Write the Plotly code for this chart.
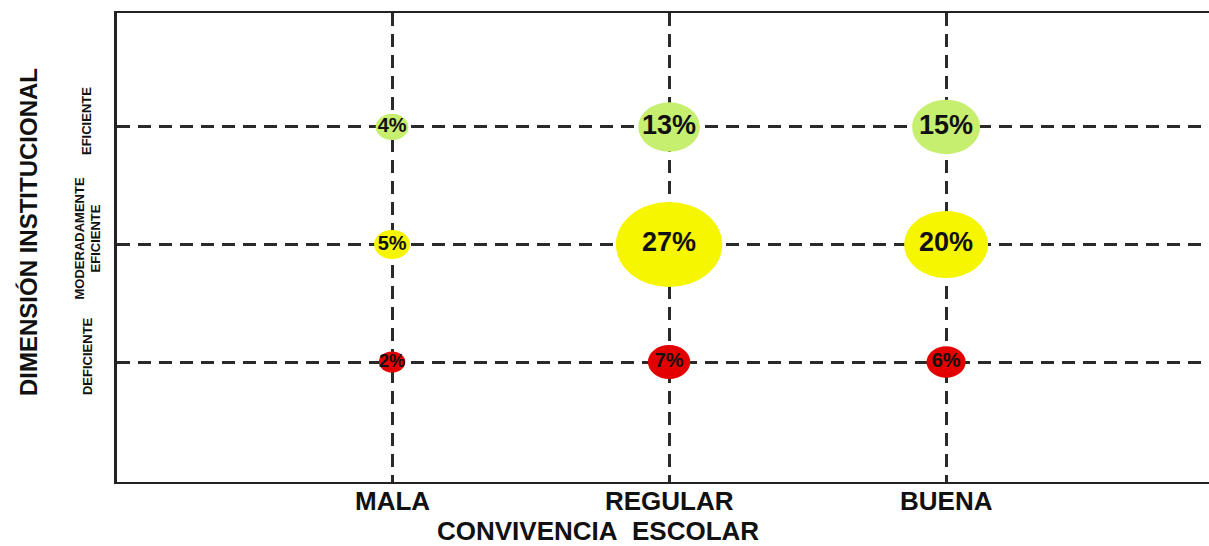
import plotly.graph_objects as go

# ---------------- data ----------------
x_categories = ["MALA", "REGULAR", "BUENA"]
y_categories = ["DEFICIENTE", "MODERADAMENTE<br>EFICIENTE", "EFICIENTE"]
# percentages per row (y category), one value per x category
deficiente = [2, 7, 6]
moderadamente_eficiente = [5, 27, 20]
eficiente = [4, 13, 15]
x_title = "CONVIVENCIA\u00a0\u00a0ESCOLAR"
y_title = "DIMENSIÓN INSTITUCIONAL"

# ---------------- style ----------------
W, H = 1209, 546
M = dict(l=117, r=0, t=13, b=64)
XR = [-0.993, 2.949]
YR = [-1.021, 2.970]
row_colors = ["#e30000", "#f6f600", "#c7ef6f"]
FONT = "Liberation Sans, Arial, sans-serif"

plot_w = W - M["l"] - M["r"]
plot_h = H - M["t"] - M["b"]
px_x = plot_w / (XR[1] - XR[0])
px_y = plot_h / (YR[1] - YR[0])

rows = [deficiente, moderadamente_eficiente, eficiente]

fig = go.Figure()
shapes = []
tx, ty, tt, ts = [], [], [], []
for yi, row in enumerate(rows):
    for xi, v in enumerate(row):
        wpx = 20 + 3.2 * v
        hpx = 0.8 * wpx
        shapes.append(dict(
            type="circle", xref="x", yref="y", layer="between",
            x0=xi - wpx / 2 / px_x, x1=xi + wpx / 2 / px_x,
            y0=yi - hpx / 2 / px_y, y1=yi + hpx / 2 / px_y,
            fillcolor=row_colors[yi], line=dict(width=0),
        ))
        tx.append(xi)
        ty.append(yi)
        tt.append(f"{v}%")
        ts.append(27 if v >= 10 else (18 if v < 3 else 20))

fig.add_trace(go.Scatter(
    x=tx, y=ty, text=tt, mode="text", textposition="middle center",
    textfont=dict(family=FONT, size=ts, color="#111111", weight="bold"),
    hoverinfo="skip", showlegend=False,
))

annotations = []
for yi, lab in enumerate(y_categories):
    annotations.append(dict(
        text=lab, xref="paper", yref="y", x=0, y=yi, xshift=-30, yshift=6,
        xanchor="center", yanchor="middle", textangle=-90, showarrow=False,
        font=dict(family=FONT, size=13, color="#111111", weight="bold"),
    ))
for xi, lab in enumerate(x_categories):
    annotations.append(dict(
        text=lab, xref="x", yref="paper", x=xi, y=0, yshift=-19,
        xanchor="center", yanchor="middle", showarrow=False,
        font=dict(family=FONT, size=26, color="#111111", weight="bold"),
    ))
annotations.append(dict(
    text=y_title, xref="paper", yref="paper", x=0, y=0.533, xshift=-89,
    xanchor="center", yanchor="middle", textangle=-90, showarrow=False,
    font=dict(family=FONT, size=24, color="#111111", weight="bold"),
))
annotations.append(dict(
    text=x_title, xref="paper", yref="paper", x=0.4405, y=0, yshift=-49,
    xanchor="center", yanchor="middle", showarrow=False, borderpad=0,
    font=dict(family=FONT, size=26, color="#111111", weight="bold"),
))

fig.update_layout(
    width=W, height=H, margin=M,
    paper_bgcolor="white", plot_bgcolor="white",
    shapes=shapes, annotations=annotations, showlegend=False,
    xaxis=dict(
        range=XR, tickvals=list(range(len(x_categories))),
        showticklabels=False,
        showgrid=True, gridcolor="#2a2a2a", gridwidth=2.5, griddash="13px,8px",
        showline=True, linecolor="#222222", linewidth=2, mirror=True,
        zeroline=False, ticks="",
    ),
    yaxis=dict(
        range=YR, tickvals=list(range(len(y_categories))),
        showticklabels=False,
        showgrid=True, gridcolor="#2a2a2a", gridwidth=2.5, griddash="13px,8px",
        showline=True, linecolor="#222222", linewidth=2.5,
        zeroline=False, ticks="",
    ),
)

fig.write_html(
    "out.html",
    config={"displayModeBar": False},
    post_script="document.body.style.margin='0';document.body.style.padding='0';",
)
